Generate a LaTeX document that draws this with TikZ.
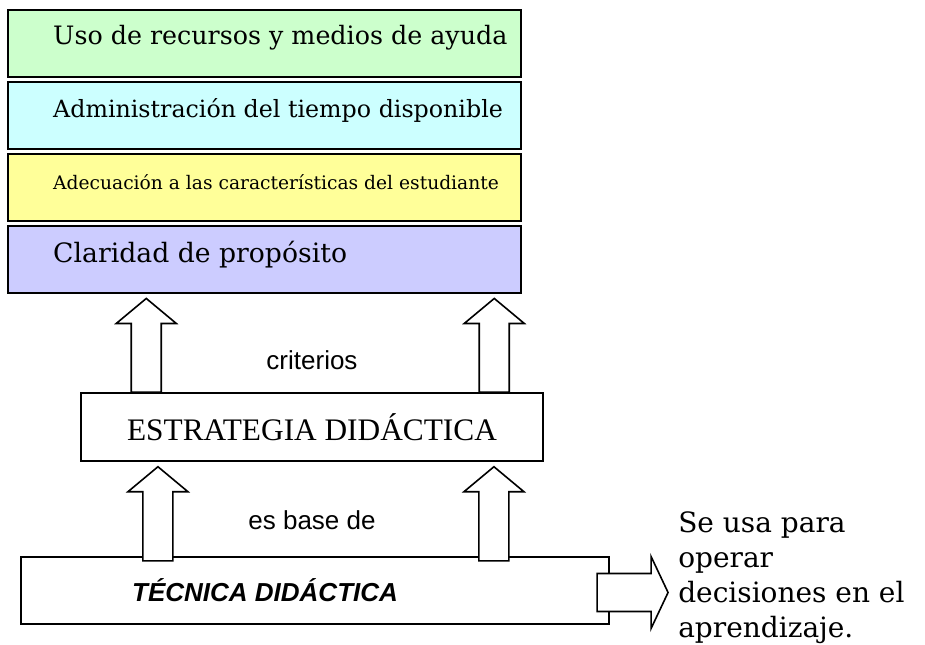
\documentclass[tikz,border=0pt]{standalone}
\usepackage{fontspec}
\setmainfont{DejaVu Serif}
\newfontfamily\timesfont{Liberation Serif}
\newfontfamily\arialfont{Liberation Sans}
\usetikzlibrary{calc, positioning}
\definecolor{usogreen}{HTML}{CCFFCC}
\definecolor{admincyan}{HTML}{CCFFFF}
\definecolor{adecyellow}{HTML}{FFFF99}
\definecolor{clarblue}{HTML}{CCCCFF}
\newcommand{\blockup}[2]{%
  \draw[blockarrow] let \p1 = #1, \p2 = #2 in
    (\x1-11.25pt,\y1) -- (\x1-11.25pt,\y2-18.75pt) -- (\x1-22.5pt,\y2-18.75pt) -- (\x1,\y2)
    -- (\x1+22.5pt,\y2-18.75pt) -- (\x1+11.25pt,\y2-18.75pt) -- (\x1+11.25pt,\y1) -- cycle;}

\begin{document}
\begin{tikzpicture}[x=0.75pt, y=-0.75pt,
    levelbox/.style={draw, line width=1.6pt, minimum width=384.75pt, minimum height=50.25pt, inner sep=0pt},
    leveltext/.style={anchor=west, inner sep=0pt, font=\fontsize{19pt}{23pt}\selectfont},
    blockarrow/.style={draw, fill=white, line width=1.2pt, line join=miter},
    midlabel/.style={font=\arialfont\fontsize{19.5pt}{23pt}\selectfont}]
    \useasboundingbox (0,0) rectangle (925,645);

    \node[levelbox, fill=usogreen] (uso) at (264.5,43.5) {};
    \node[levelbox, fill=admincyan, below=2.25pt of uso] (admin) {};
    \node[levelbox, fill=adecyellow, below=2.25pt of admin] (adec) {};
    \node[levelbox, fill=clarblue, below=2.25pt of adec] (clar) {};
    \node[leveltext] (uso-txt) at ([xshift=34.5pt, yshift=4pt]uso.west) {Uso de recursos y medios de ayuda};
    \node[leveltext, font=\fontsize{17.8pt}{21pt}\selectfont] (admin-txt) at ([xshift=34.5pt, yshift=4pt]admin.west) {Administración del tiempo disponible};
    \node[leveltext, font=\fontsize{14pt}{17pt}\selectfont] (adec-txt) at ([xshift=34.5pt, yshift=4pt]adec.west) {Adecuación a las características del estudiante};
    \node[leveltext, font=\fontsize{20pt}{24pt}\selectfont] (clar-txt) at ([xshift=34.5pt, yshift=4pt]clar.west) {Claridad de propósito};

    \node[draw, line width=1.1pt, minimum width=346.5pt, minimum height=51pt, font=\timesfont\fontsize{23.5pt}{28pt}\selectfont] (estr) at (312,427) {ESTRATEGIA DIDÁCTICA};
    \node[draw, line width=1.6pt, minimum width=441pt, minimum height=50.25pt] (tec) at (315,590.5) {};
    \node[inner sep=0pt, anchor=west, font=\arialfont\bfseries\itshape\fontsize{19.5pt}{23pt}\selectfont] (tec-txt) at ([xshift=84pt]tec.west) {TÉCNICA DIDÁCTICA};

    % criterios
    \coordinate (crit-l) at ($(estr.north west)+(66,0)$);
    \coordinate (crit-r) at ($(estr.north west)+(414,0)$);
    \blockup{(crit-l)}{($(crit-l |- clar.south)+(0,4)$)}
    \blockup{(crit-r)}{($(crit-r |- clar.south)+(0,4)$)}
    \node[midlabel] (criterios) at ($(estr.north)+(0,-32)$) {criterios};

    % es base de
    \coordinate (base-l) at ($(tec.north west)+(138,5)$);
    \coordinate (base-r) at ($(tec.north west)+(474,5)$);
    \blockup{(base-l)}{($(base-l |- estr.south)+(0,5)$)}
    \blockup{(base-r)}{($(base-r |- estr.south)+(0,5)$)}
    \node[midlabel] (es-base) at ($(tec.north)+(-3,-36)$) {es base de};

    % se usa para
    \draw[blockarrow] ($(tec.east)+(-13,-17)$) -- ++(54,0) -- ++(0,-17) -- ++(17,36) -- ++(-17,36) -- ++(0,-17) -- ++(-54,0) -- cycle;
    \node[anchor=north west, align=left, inner sep=0pt, font=\fontsize{21pt}{26.25pt}\selectfont] (se-usa) at (678,511.5) {Se usa para\\operar\\decisiones en el\\aprendizaje.};
\end{tikzpicture}
\end{document}
